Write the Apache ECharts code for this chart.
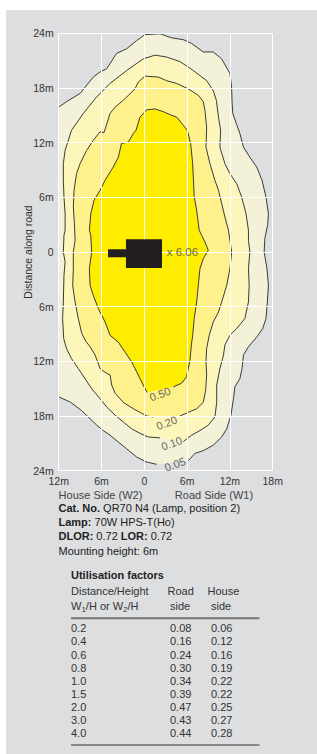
<!DOCTYPE html>
<html><head><meta charset="utf-8">
<script src="https://cdn.jsdelivr.net/npm/echarts@6/dist/echarts.min.js"></script>
<style>html,body{margin:0;padding:0;background:#fff}#c{width:317px;height:754px}</style>
</head><body><div id="c"></div>
<script>
// ---- data (metres; contour traces) ----
const xTicks = [-12, -6, 0, 6, 12, 18];
const yTicks = [-24, -18, -12, -6, 0, 6, 12, 18, 24];
const contourLevels = ['0.05', '0.10', '0.20', '0.50'];
const contour005 = [[6.17,-22.9],[7.1,-22.1],[8.27,-21.8],[9.67,-21.2],[10.85,-20.3],[11.55,-19.4],[12.15,-17.9],[12.5,-16.1],[12.7,-14.8],[13.4,-13.9],[13.7,-12.8],[13.9,-11.3],[14.6,-10.4],[15.8,-9.3],[16.6,-8.4],[17.06,-7.3],[17.25,-5.49],[17.4,-3.66],[17.2,-1.83],[16.8,0],[16.9,1.5],[17.3,3.0],[17.4,4.2],[17.06,6.04],[16.5,7.87],[15.75,9.33],[14.8,10.4],[13.9,11.5],[13.4,13.0],[12.9,14.1],[12.4,15.2],[12.3,16.5],[12.24,18.1],[12.0,19.6],[10.84,21.2],[9.67,21.95],[8.27,21.95],[6.6,22.9],[5.47,23.3],[3.83,23.5],[2.2,23.95],[0.1,23.85],[-1.07,23.2],[-2.48,22.3],[-3.88,21.8],[-5.28,20.1],[-6.2,19.76],[-7.15,19.2],[-9.0,17.4],[-10.9,16.5],[-12.0,15.9],[-14,15.0],[-14,-15.0],[-12.0,-15.9],[-10.4,-16.46],[-8.78,-17.4],[-7.6,-18.3],[-6.67,-19.0],[-5.75,-19.6],[-4.8,-20.1],[-3.64,-20.86],[-2.47,-21.6],[-1.07,-22.5],[0.33,-23.05],[1.73,-23.3]];
const contour010 = [[5.47,-20.8],[6.64,-20.1],[7.8,-19.6],[8.97,-19.0],[9.9,-18.1],[10.15,-16.5],[10.15,-14.6],[10.6,-12.8],[11.1,-11.3],[11.3,-10.2],[12.0,-9.14],[12.95,-8.4],[14.1,-7.3],[14.6,-5.49],[14.7,-3.66],[14.6,-1.83],[14.8,0],[14.6,1.28],[14.6,2.38],[14.26,4.2],[13.65,6.04],[12.95,7.5],[12.0,8.6],[11.3,9.7],[10.6,11.5],[10.7,13.36],[10.4,14.8],[10.1,16.65],[9.67,17.7],[8.74,18.8],[6.9,19.9],[5.0,20.9],[3.1,21.4],[1.5,21.6],[-0.14,21.2],[-2.5,19.9],[-4.8,18.5],[-6.7,17.0],[-8.55,15.2],[-10.2,13.36],[-10.65,12.26],[-11.1,11.16],[-11.35,9.7],[-11.35,7.87],[-11.26,6.04],[-11.1,4.2],[-11.1,2.38],[-11.26,1.83],[-11.35,0],[-11.1,-1.1],[-11.26,-2.56],[-11.35,-5.49],[-11.45,-7.3],[-11.3,-9.5],[-10.9,-10.6],[-10.2,-11.7],[-9.25,-12.8],[-8.3,-13.9],[-7.38,-15.0],[-6.2,-16.1],[-5.28,-17.0],[-4.1,-17.9],[-2.94,-18.66],[-1.77,-19.4],[-0.6,-19.9],[0.56,-20.3],[2.2,-20.4]];
const contour020 = [[5.0,-18.0],[6.17,-17.6],[7.34,-17.2],[8.27,-16.5],[8.6,-15.2],[8.74,-13.5],[8.65,-12.07],[8.74,-10.6],[9.1,-9.14],[9.67,-7.68],[10.4,-6.59],[10.85,-5.49],[11.55,-3.66],[12.0,-1.83],[12.25,0],[12.0,1.28],[11.8,2.38],[11.3,3.84],[10.85,5.3],[10.4,6.77],[9.9,7.87],[9.2,9.7],[8.65,11.5],[8.74,13.7],[8.5,15.55],[8.27,16.5],[7.57,17.2],[6.17,17.9],[4.53,18.5],[3.13,18.8],[1.96,19.2],[0.1,19.3],[-0.84,18.66],[-1.3,17.9],[-2.94,16.65],[-4.1,15.9],[-4.8,15.2],[-5.65,13.1],[-6.2,13.2],[-7.15,12.26],[-8.08,11.16],[-9.0,9.7],[-9.5,8.6],[-9.85,6.77],[-9.95,4.94],[-9.8,3.11],[-9.7,1.28],[-9.95,0],[-9.95,-1.83],[-10.04,-3.66],[-9.7,-5.49],[-9.25,-7.3],[-8.78,-8.9],[-8.2,-9.8],[-7.6,-10.4],[-6.9,-11.3],[-6.2,-12.8],[-5.5,-13.2],[-4.8,-13.5],[-4.57,-14.6],[-4.1,-15.5],[-2.94,-16.5],[-1.54,-17.2],[-0.37,-17.7],[0.33,-18.0],[1.26,-18.1]];
const contour050 = [[4.07,-14.8],[5.23,-14.4],[5.93,-13.7],[6.4,-11.9],[6.6,-10.2],[6.78,-9.14],[7.0,-7.3],[7.34,-5.49],[7.57,-3.66],[7.8,-1.83],[8.27,-0.73],[8.97,0.18],[8.5,1.1],[8.04,1.83],[7.7,2.38],[7.34,4.58],[7.0,6.04],[6.78,9.7],[6.5,11.9],[6.03,13.36],[5.47,13.9],[4.53,14.8],[3.83,15.0],[2.66,15.4],[1.5,15.7],[0.33,15.6],[-0.6,14.8],[-1.16,13.36],[-1.54,13.0],[-2.24,12.07],[-3.2,11.9],[-3.64,10.4],[-4.35,9.33],[-5.5,7.87],[-6.2,6.77],[-7.05,5.67],[-7.5,4.2],[-7.7,2.38],[-7.5,1.83],[-7.38,0],[-7.7,-1.83],[-7.6,-3.66],[-7.15,-4.75],[-6.45,-6.2],[-5.5,-7.68],[-4.8,-9.14],[-3.64,-9.9],[-2.7,-10.98],[-1.77,-12.07],[-1.3,-12.8],[-0.6,-13.9],[0.1,-15.0],[0.4,-15.4]];
const contourLabelPos = [[4.3,-23.3],[3.83,-21.0],[3.13,-18.75],[2.2,-15.6]];
const peakValue = 6.06;
const peakPos = [3.14, 0];
const lampBody = [-2.57, 2.48, -1.76, 1.39];   // xmin, xmax, ymin, ymax (m)
const lampArm = [-5.09, -2.57, -0.58, 0.3];
const ratios = ['0.2','0.4','0.6','0.8','1.0','1.5','2.0','3.0','4.0'];
const roadSide = [0.08,0.16,0.24,0.30,0.34,0.39,0.47,0.43,0.44];
const houseSide = [0.06,0.12,0.16,0.19,0.22,0.22,0.25,0.27,0.28];

// ---- chart ----
const F = '"Liberation Sans", Arial, sans-serif';
const TXT = '#333';
const contours = [contour005, contour010, contour020, contour050];
const fills = ['#f3f2d8', '#fdf6ba', '#fef18c', '#ffed00'];
const chart = echarts.init(document.getElementById('c'), null, {renderer: 'svg'});

const fmtM = v => (v === 0 ? '0' : Math.abs(v) + 'm');

const graphics = [
  {type: 'rect', z: -10, shape: {x: 6, y: 10, width: 311, height: 744}, style: {fill: '#dddee0'}, silent: true},
  {type: 'text', style: {text: 'House Side (W2)', x: 100.5, y: 495, font: '11px ' + F, fill: '#444', align: 'center', verticalAlign: 'middle'}},
  {type: 'text', style: {text: 'Road Side (W1)', x: 214, y: 495, font: '11px ' + F, fill: '#444', align: 'center', verticalAlign: 'middle'}}
];
const rich = {
  b: {fontWeight: 'bold', fontSize: 11, fontFamily: F, fill: '#222'},
  n: {fontSize: 11, fontFamily: F, fill: '#222'},
  s: {fontSize: 8, fontFamily: F, fill: '#333', padding: [6, 0, 0, 0]},
  m: {fontSize: 11, fontFamily: F, fill: '#333'}
};
const info = [
  '{b|Cat. No.}{n| QR70 N4 (Lamp, position 2)}',
  '{b|Lamp:}{n| 70W HPS-T(Ho)}',
  '{b|DLOR:}{n| 0.72 }{b|LOR:}{n| 0.72}',
  '{n|Mounting height: 6m}'
];
info.forEach((t, i) => graphics.push({type: 'text', style: {text: t, rich, x: 58.5, y: 508 + i * 14.2, verticalAlign: 'middle', align: 'left'}}));

// table
const tx0 = 71, txR = 170, txH = 211;
graphics.push({type: 'text', style: {text: 'Utilisation factors', x: tx0, y: 575, font: 'bold 11px ' + F, fill: '#222', verticalAlign: 'middle'}});
graphics.push({type: 'text', style: {text: 'Distance/Height', x: tx0, y: 591, font: '11px ' + F, fill: TXT, verticalAlign: 'middle'}});
graphics.push({type: 'text', style: {text: 'Road', x: 167.5, y: 591, font: '11px ' + F, fill: TXT, verticalAlign: 'middle'}});
graphics.push({type: 'text', style: {text: 'House', x: 207.5, y: 591, font: '11px ' + F, fill: TXT, verticalAlign: 'middle'}});
graphics.push({type: 'text', style: {text: '{m|W}{s|1}{m|/H or W}{s|2}{m|/H}', rich, x: tx0, y: 606, verticalAlign: 'middle'}});
graphics.push({type: 'text', style: {text: 'side', x: txR, y: 606, font: '11px ' + F, fill: TXT, verticalAlign: 'middle'}});
graphics.push({type: 'text', style: {text: 'side', x: txH, y: 606, font: '11px ' + F, fill: TXT, verticalAlign: 'middle'}});
graphics.push({type: 'line', shape: {x1: tx0, y1: 618.3, x2: 259.5, y2: 618.3}, style: {stroke: '#777', lineWidth: 2}});
graphics.push({type: 'line', shape: {x1: tx0, y1: 745, x2: 259.5, y2: 745}, style: {stroke: '#333', lineWidth: 1.2}});
ratios.forEach((r, i) => {
  const y = 628.3 + i * 13.125;
  graphics.push({type: 'text', style: {text: r, x: tx0, y, font: '11px ' + F, fill: TXT, verticalAlign: 'middle'}});
  graphics.push({type: 'text', style: {text: roadSide[i].toFixed(2), x: txR, y, font: '11px ' + F, fill: TXT, verticalAlign: 'middle'}});
  graphics.push({type: 'text', style: {text: houseSide[i].toFixed(2), x: txH, y, font: '11px ' + F, fill: TXT, verticalAlign: 'middle'}});
});

const option = {
  backgroundColor: '#fff',
  animation: false,
  grid: {left: 58.7, top: 33.3, width: 214, height: 437.4, containLabel: false},
  xAxis: {
    type: 'value', min: xTicks[0], max: xTicks[xTicks.length - 1], interval: 6,
    axisLine: {show: false}, axisTick: {show: false},
    axisLabel: {formatter: fmtM, color: TXT, fontFamily: F, fontSize: 10.5, margin: 5},
    splitLine: {show: true, lineStyle: {color: '#fff', width: 1}}
  },
  yAxis: {
    type: 'value', min: yTicks[0], max: yTicks[yTicks.length - 1], interval: 6,
    name: 'Distance along road', nameLocation: 'middle', nameRotate: 90, nameGap: 25,
    nameMoveOverlap: false,
    nameTextStyle: {color: TXT, fontFamily: F, fontSize: 10.5},
    axisLine: {show: false}, axisTick: {show: false},
    axisLabel: {formatter: fmtM, color: TXT, fontFamily: F, fontSize: 10.5, margin: 5},
    splitLine: {show: true, lineStyle: {color: '#fff', width: 1}}
  },
  graphic: {elements: graphics},
  series: [
    {
      type: 'custom', coordinateSystem: 'cartesian2d', z: -1, clip: true, silent: true,
      data: contours.map((c, i) => [i, 0]),
      encode: {x: -1, y: -1},
      renderItem(params, api) {
        const i = params.dataIndex;
        const pts = contours[i].map(p => api.coord(p));
        return {type: 'group', children: [
          {type: 'polygon', shape: {points: pts}, style: {fill: fills[i], stroke: null, lineWidth: 0}},
          {type: 'polyline', shape: {points: pts}, style: {fill: null, stroke: '#3a3a3a', lineWidth: 1}}
        ]};
      }
    },
    {
      type: 'custom', coordinateSystem: 'cartesian2d', z: 5, silent: true,
      data: [lampArm, lampBody],
      renderItem(params, api) {
        const r = [lampArm, lampBody][params.dataIndex];
        const a = api.coord([r[0], r[3]]), b = api.coord([r[1], r[2]]);
        return {type: 'rect', shape: {x: a[0], y: a[1], width: b[0] - a[0], height: b[1] - a[1]}, style: {fill: '#231f20'}};
      }
    },
    {
      type: 'scatter', z: 6, symbolSize: 0.1, silent: true,
      data: contourLabelPos.map((p, i) => ({value: p, name: contourLevels[i]})),
      label: {show: true, position: 'inside', formatter: p => p.name, rotate: 20, color: '#3a3a3a', fontFamily: F, fontSize: 11}
    },
    {
      type: 'scatter', z: 6, symbolSize: 0.1, silent: true,
      data: [{value: peakPos}],
      label: {show: true, position: 'right', distance: 0, formatter: 'x ' + peakValue.toFixed(2), color: '#444', fontFamily: F, fontSize: 11.5}
    }
  ]
};
chart.setOption(option);
</script></body></html>
